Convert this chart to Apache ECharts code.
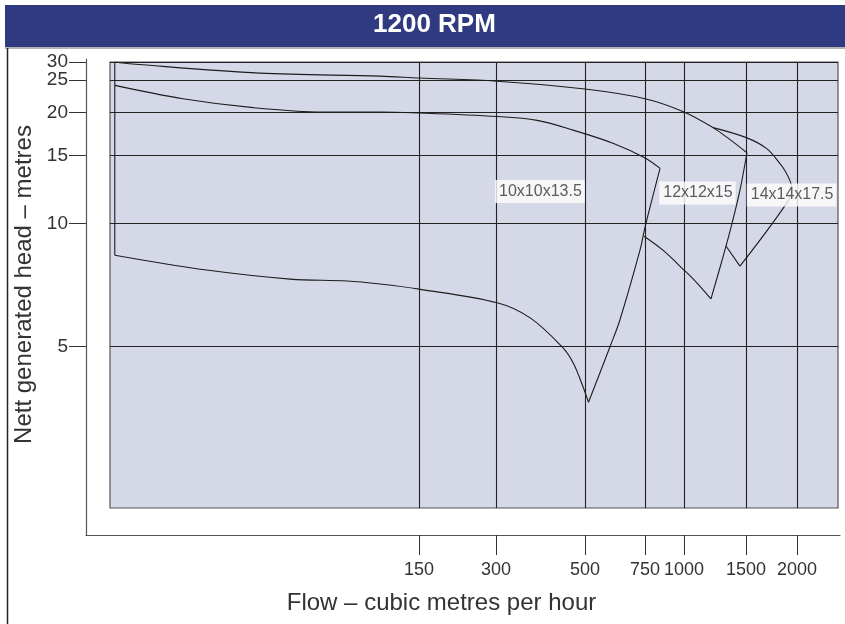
<!DOCTYPE html>
<html>
<head>
<meta charset="utf-8">
<script src="https://cdn.jsdelivr.net/npm/echarts@6/dist/echarts.min.js"></script>
<style>
  html, body { margin: 0; padding: 0; background: #fff; }
  #chart { width: 845px; height: 624px; }
</style>
</head>
<body>
<div id="chart"></div>
<script>
// ---------- data (flow m3/h, head m) ----------
const chartTitle = '1200 RPM';
const flowTicks = [150, 300, 500, 750, 1000, 1500, 2000];
const headTicks = [5, 10, 15, 20, 25, 30];

const pump10Name = '10x10x13.5';
const pump10Top = [[9.7, 24.1], [17.9, 22.0], [33.7, 20.7], [63.2, 20.1], [105.6, 20.1], [142, 20.0], [302, 19.5], [380, 19.0], [467, 17.8], [604, 16.3], [750, 14.8], [838, 13.9]];
const pump10Right = [[838, 13.9], [750, 9.78], [725, 8.6], [633, 5.81], [592, 5.0], [512, 3.66]];
const pump10Bottom = [[9.7, 8.36], [22.2, 7.69], [47.0, 7.31], [78.5, 7.23], [105.6, 7.11], [150, 6.91], [302, 6.40], [365, 5.88], [438, 5.0], [467, 4.57], [494, 4.0], [512, 3.66]];
const pump10Left = [[9.7, 30], [9.7, 8.36]];

const pump12Name = '12x12x15';
const pump12Top = [[9.7, 30], [11.4, 29.4], [35.8, 26.8], [105.6, 26.0], [151, 25.5], [302, 24.8], [500, 23.5], [750, 22.0], [1000, 20.1], [1209, 18.1], [1351, 16.7], [1508, 15.3]];
const pump12Right = [[1508, 15.3], [1442, 12.2], [1369, 10.0], [1290, 8.27], [1193, 6.54]];
const pump12Bottom = [[745, 9.30], [856, 8.60], [1000, 7.69], [1089, 7.15], [1193, 6.54]];

const pump14Name = '14x14x17.5';
const pump14Outer = [[1209, 18.1], [1508, 16.9], [1689, 15.7], [1817, 14.3], [1869, 13.7], [1923, 12.9], [1944, 12.3], [1883, 11.25], [1442, 7.86]];
const pump14Inner = [[1442, 7.86], [1316, 8.8]];

const labelAnchors = [[386, 12.1, pump10Name], [1092, 12.0, pump12Name], [1940, 11.85, pump14Name]];

// ---------- custom (hand-drawn) axis scales: value -> axis unit ----------
function makeScale(knots) {
  const L = knots.map(([v, u]) => [Math.log10(v), u]);
  return function (v) {
    const lv = Math.log10(v);
    let i = 0;
    while (i < L.length - 2 && lv > L[i + 1][0]) i++;
    const a = L[i], b = L[i + 1];
    return a[1] + (lv - a[0]) * (b[1] - a[1]) / (b[0] - a[0]);
  };
}
const xScaleUnits = [309, 386, 475, 535, 574, 636, 687];
const yScaleUnits = [161.3, 284.7, 352.3, 395.3, 428, 446];
const fx = makeScale(flowTicks.map((v, i) => [v, xScaleUnits[i]]));
const fy = makeScale(headTicks.map((v, i) => [v, yScaleUnits[i]]));
const toUnits = arr => arr.map(([q, h]) => [fx(q), fy(h)]);
const tickLabel = (ticks, f) => val => {
  for (const t of ticks) if (Math.abs(f(t) - val) < 0.5) return String(t);
  return '';
};
const xTickUnits = flowTicks.map(fx);
const yTickUnits = headTicks.map(fy);
// top label (30) sits very close to 25, so it is carried by its own axis to keep both visible
const yTickUnitsLow = headTicks.slice(0, -1).map(fy);
const yTickUnitsTop = headTicks.slice(-1).map(fy);

const lineColor = '#1c1c1c';
function curve(name, arr, smooth) {
  return {
    type: 'line', name, data: toUnits(arr), smooth: smooth ? 0.35 : false,
    xAxisIndex: 0, yAxisIndex: 0,
    symbol: 'none', silent: true, z: 3,
    lineStyle: { color: lineColor, width: 1.1 }
  };
}

const regular = "'Liberation Sans', Arial, sans-serif";
const yLabelStyle = { formatter: tickLabel(headTicks, fy), margin: 18, fontSize: 19, fontFamily: regular, color: '#333',
  showMinLabel: true, showMaxLabel: true };

const chart = echarts.init(document.getElementById('chart'), null, { renderer: 'canvas' });
chart.setOption({
  animation: false,
  backgroundColor: '#ffffff',
  title: {
    text: chartTitle, left: 373, top: 12, padding: 0,
    textStyle: { color: '#ffffff', fontSize: 26, fontWeight: 'bold', fontFamily: regular }
  },
  graphic: [
    { type: 'rect', shape: { x: 5, y: 5, width: 840, height: 42 }, style: { fill: '#2f3a80' }, z: -10 },
    { type: 'line', shape: { x1: 5, y1: 48, x2: 845, y2: 48 }, style: { stroke: '#9a9a9a', lineWidth: 1.5 } },
    { type: 'line', shape: { x1: 7.5, y1: 48, x2: 7.5, y2: 624 }, style: { stroke: '#222', lineWidth: 1.5 } }
  ],
  grid: [
    { // shaded plotting panel
      left: 110, top: 62, width: 728, height: 446,
      show: true, backgroundColor: '#d5d8e6', borderColor: '#555', borderWidth: 1.2,
      outerBoundsMode: 'none'
    },
    { // outer axis frame (same scales, extended extent)
      left: 86, top: 59, width: 754, height: 476, show: false, outerBoundsMode: 'none'
    }
  ],
  xAxis: [
    {
      type: 'value', gridIndex: 0, min: 0, max: 728,
      axisLine: { show: false },
      axisTick: { show: false, customValues: xTickUnits },
      axisLabel: { show: false, customValues: xTickUnits },
      splitLine: { show: true, lineStyle: { color: '#222', width: 1.1 } }
    },
    {
      type: 'value', gridIndex: 1, min: -24, max: 730,
      axisLine: { show: true, onZero: false, lineStyle: { color: '#555', width: 1.2 } },
      axisTick: { show: true, customValues: xTickUnits, length: 20, lineStyle: { color: '#333', width: 1 } },
      axisLabel: { show: true, customValues: xTickUnits, formatter: tickLabel(flowTicks, fx), margin: 26,
        fontSize: 18, fontFamily: regular, color: '#333' },
      splitLine: { show: false },
      name: 'Flow – cubic metres per hour', nameLocation: 'middle', nameGap: 56,
      nameTextStyle: { fontSize: 24, fontFamily: regular, color: '#333', padding: [0, 43, 0, 0] }
    }
  ],
  yAxis: [
    {
      type: 'value', gridIndex: 0, min: 0, max: 446,
      axisLine: { show: false },
      axisTick: { show: false, customValues: yTickUnits },
      axisLabel: { show: false, customValues: yTickUnits },
      splitLine: { show: true, lineStyle: { color: '#222', width: 1.1 } }
    },
    {
      type: 'value', gridIndex: 1, position: 'left', min: -27, max: 449,
      axisLine: { show: true, onZero: false, lineStyle: { color: '#555', width: 1.2 } },
      axisTick: { show: true, customValues: yTickUnitsLow, length: 17, lineStyle: { color: '#333', width: 1 } },
      axisLabel: Object.assign({ show: true, customValues: yTickUnitsLow }, yLabelStyle),
      splitLine: { show: false },
      name: 'Nett generated head – metres', nameLocation: 'middle', nameRotate: 90, nameGap: 50,
      nameTextStyle: { fontSize: 24, fontFamily: regular, color: '#333', padding: [0, 0, 0, 25] }
    },
    {
      type: 'value', gridIndex: 1, position: 'left', offset: 0, min: -27, max: 449,
      axisLine: { show: false, onZero: false },
      axisTick: { show: true, customValues: yTickUnitsTop, length: 17, lineStyle: { color: '#333', width: 1 } },
      axisLabel: Object.assign({ show: true, customValues: yTickUnitsTop }, yLabelStyle),
      splitLine: { show: false }
    }
  ],
  series: [
    curve(pump10Name, pump10Top, true),
    curve(pump10Name, pump10Right, true),
    curve(pump10Name, pump10Bottom, true),
    curve(pump10Name, pump10Left, false),
    curve(pump12Name, pump12Top, true),
    curve(pump12Name, pump12Right, true),
    curve(pump12Name, pump12Bottom, true),
    curve(pump14Name, pump14Outer, true),
    curve(pump14Name, pump14Inner, false),
    {
      type: 'scatter', name: 'labels', silent: true, z: 10,
      xAxisIndex: 0, yAxisIndex: 0,
      data: labelAnchors.map(([q, h, n]) => [fx(q), fy(h), n]),
      symbolSize: 1, itemStyle: { color: 'rgba(0,0,0,0)' },
      label: { show: true, position: 'inside', formatter: p => p.data[2],
        backgroundColor: '#ffffff', padding: [3, 3, 2, 4], color: '#333', fontSize: 16, fontFamily: regular, lineHeight: 18 }
    }
  ]
});
</script>
</body>
</html>
